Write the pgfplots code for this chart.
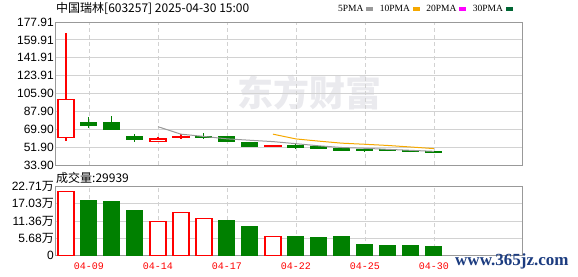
\documentclass[border=0pt]{standalone}
\usepackage{fontspec}
\setmainfont{Liberation Sans}
\newfontfamily\cjk{Noto Sans CJK SC}
\newfontfamily\mono{Liberation Mono}
\newfontfamily\wmfont{Liberation Serif}
\usepackage{pgfplots}
\pgfplotsset{compat=1.18}
\definecolor{kred}{RGB}{255,0,0}
\definecolor{kgreen}{RGB}{0,128,0}
\definecolor{framec}{HTML}{999999}
\definecolor{gridc}{HTML}{D2D2D2}
\definecolor{ma5}{HTML}{999999}
\definecolor{ma10}{HTML}{F5A800}
\definecolor{ma20}{HTML}{FF00FF}
\definecolor{ma30}{HTML}{006633}
\definecolor{wm}{HTML}{EAEAEE}
\definecolor{wmblue}{HTML}{1C3C80}
\pgfplotsset{
  upw/.style={draw=kred, line width=1.1pt, forget plot},
  upb/.style={draw=kred, fill=white, line width=1.1pt, forget plot},
  dnw/.style={draw=kgreen, line width=1pt, forget plot},
  dnb/.style={draw=kgreen, fill=kgreen, line width=1pt, forget plot},
  kbase/.style={
    scale only axis, width=467pt,
    xmin=-0.478, xmax=19.83,
    axis line style={framec, line width=0.8pt},
    xtick={1,4,7,10,13,16},
    major tick length=0pt,
    xmajorgrids, ymajorgrids,
    x grid style={gridc, dash pattern=on 4pt off 3pt, line width=0.8pt},
    y grid style={gridc, line width=0.8pt},
    tick label style={font=\fontsize{12}{12}\selectfont, black},
    yticklabel style={inner sep=1pt},
  }
}
\begin{document}
\begin{tikzpicture}[x=1pt,y=1pt]
\path[use as bounding box] (0,0) rectangle (578,276);
\node[wm, font=\cjk\bfseries\fontsize{36}{36}\selectfont] at (309,183) {东方财富};
\node[anchor=west, inner sep=0pt, font=\cjk\fontsize{12}{12}\selectfont] at (56,267.3) {中国瑞林[603257] 2025-04-30 15:00};
\node[anchor=west, inner sep=0pt, font=\cjk\fontsize{12}{12}\selectfont] at (56,98) {成交量:29939};

\begin{axis}[kbase,
  at={(55pt,111pt)}, anchor=south west, height=143pt,
  ymin=33.90, ymax=177.91,
  xticklabels={},
  ytick={33.90,51.90,69.90,87.90,105.90,123.91,141.91,159.91,177.91},
  yticklabels={33.90,51.90,69.90,87.90,105.90,123.91,141.91,159.91,177.91},
  legend plot pos=right,
  legend columns=4,
  legend style={at={(0.606,1.091)}, anchor=west, draw=none, fill=none, inner sep=0pt,
    column sep=0pt, nodes={inner sep=0pt}, font=\wmfont\fontsize{9.5}{9.5}\selectfont},
  legend image code/.code={\fill[#1] (2.5pt,-1.5pt) rectangle (8.5pt,1.5pt); \path (0pt,0pt) (16pt,0pt);},
]
% candles
\addplot[upw] coordinates {(0,58.4) (0,166.5)};
\addplot[upb] coordinates {(-0.348,61.8) (0.348,61.8) (0.348,100.1) (-0.348,100.1)} -- cycle;
\addplot[dnw] coordinates {(1,71.5) (1,82.2)};
\addplot[dnb] coordinates {(0.652,73.2) (1.348,73.2) (1.348,76.2) (0.652,76.2)} -- cycle;
\addplot[dnw] coordinates {(2,69.5) (2,83.2)};
\addplot[dnb] coordinates {(1.652,69.5) (2.348,69.5) (2.348,77.2) (1.652,77.2)} -- cycle;
\addplot[dnw] coordinates {(3,57.4) (3,65.1)};
\addplot[dnb] coordinates {(2.652,59.4) (3.348,59.4) (3.348,63.1) (2.652,63.1)} -- cycle;
\addplot[upw] coordinates {(4,57.4) (4,61.8)};
\addplot[upb] coordinates {(3.652,57.4) (4.348,57.4) (4.348,60.1) (3.652,60.1)} -- cycle;
\addplot[upw] coordinates {(5,60.4) (5,65.4)};
\addplot[upb] coordinates {(4.652,61.5) (5.348,61.5) (5.348,62.5) (4.652,62.5)} -- cycle;
\addplot[dnw] coordinates {(6,60.1) (6,65.8)};
\addplot[dnb] coordinates {(5.652,61.8) (6.348,61.8) (6.348,63.1) (5.652,63.1)} -- cycle;
\addplot[dnw] coordinates {(7,57.4) (7,63.4)};
\addplot[dnb] coordinates {(6.652,57.4) (7.348,57.4) (7.348,62.4) (6.652,62.4)} -- cycle;
\addplot[dnw] coordinates {(8,52.3) (8,57.0)};
\addplot[dnb] coordinates {(7.652,52.3) (8.348,52.3) (8.348,56.4) (7.652,56.4)} -- cycle;
\addplot[upw] coordinates {(9,52.3) (9,54.3)};
\addplot[upb] coordinates {(8.652,52.3) (9.348,52.3) (9.348,53.3) (8.652,53.3)} -- cycle;
\addplot[dnw] coordinates {(10,50.3) (10,55.8)};
\addplot[dnb] coordinates {(9.652,52.0) (10.348,52.0) (10.348,53.3) (9.652,53.3)} -- cycle;
\addplot[dnw] coordinates {(11,50.8) (11,52.6)};
\addplot[dnb] coordinates {(10.652,51.0) (11.348,51.0) (11.348,52.3) (10.652,52.3)} -- cycle;
\addplot[dnw] coordinates {(12,49.0) (12,51.2)};
\addplot[dnb] coordinates {(11.652,49.0) (12.348,49.0) (12.348,51.0) (11.652,51.0)} -- cycle;
\addplot[dnw] coordinates {(13,47.3) (13,51.0)};
\addplot[dnb] coordinates {(12.652,48.3) (13.348,48.3) (13.348,49.3) (12.652,49.3)} -- cycle;
\addplot[dnw] coordinates {(14,47.8) (14,49.5)};
\addplot[dnb] coordinates {(13.652,48.0) (14.348,48.0) (14.348,49.3) (13.652,49.3)} -- cycle;
\addplot[dnw] coordinates {(15,46.8) (15,48.5)};
\addplot[dnb] coordinates {(14.652,47.0) (15.348,47.0) (15.348,48.3) (14.652,48.3)} -- cycle;
\addplot[dnw] coordinates {(16,45.8) (16,47.5)};
\addplot[dnb] coordinates {(15.652,46.0) (16.348,46.0) (16.348,47.3) (15.652,47.3)} -- cycle;
% moving averages
\addplot[ma5, line width=1pt, forget plot] coordinates {(4,72.46) (5,64.94) (6,62.66) (7,60.24) (8,58.82) (9,57.46) (10,55.36) (11,53.2) (12,51.52) (13,50.72) (14,49.66) (15,48.66) (16,47.66)};
\addplot[ma10, line width=1pt, forget plot] coordinates {(9,64.96) (10,60.15) (11,57.93) (12,55.88) (13,54.77) (14,53.56) (15,52.01) (16,50.43)};
\addlegendimage{ma5}\addlegendentry{5PMA}
\addlegendimage{ma10}\addlegendentry{10PMA}
\addlegendimage{ma20}\addlegendentry{20PMA}
\addlegendimage{ma30}\addlegendentry{30PMA}
\end{axis}

\begin{axis}[kbase,
  at={(55pt,20.7pt)}, anchor=south west, height=68.6pt,
  ymin=0, ymax=22.71,
  xticklabels={04-09,04-14,04-17,04-22,04-25,04-30},
  xticklabel style={kred, font=\mono\fontsize{10}{10}\selectfont, inner sep=0pt, yshift=-7.5pt},
  ytick={0,5.68,11.36,17.03,22.71},
  yticklabels={0,5.68{\cjk 万},11.36{\cjk 万},17.03{\cjk 万},22.71{\cjk 万}},
]
\addplot[ybar, bar width=0.696, bar shift=0pt, draw=kred, fill=white, line width=1.1pt]
  coordinates {(0,21.2) (4,11.26) (5,14.2) (6,12.25) (9,6.29)};
\addplot[ybar, bar width=0.696, bar shift=0pt, draw=kgreen, fill=kgreen, line width=1pt]
  coordinates {(1,18.3) (2,17.65) (3,14.67) (7,11.36) (8,9.37) (10,6.06) (11,5.73) (12,6.06) (13,3.74) (14,3.41) (15,3.08) (16,2.99)};
\end{axis}

\node[anchor=west, inner sep=0pt, wmblue, font=\wmfont\bfseries\fontsize{17}{17}\selectfont] at (455,15) {www.365jz.com};
\end{tikzpicture}
\end{document}
